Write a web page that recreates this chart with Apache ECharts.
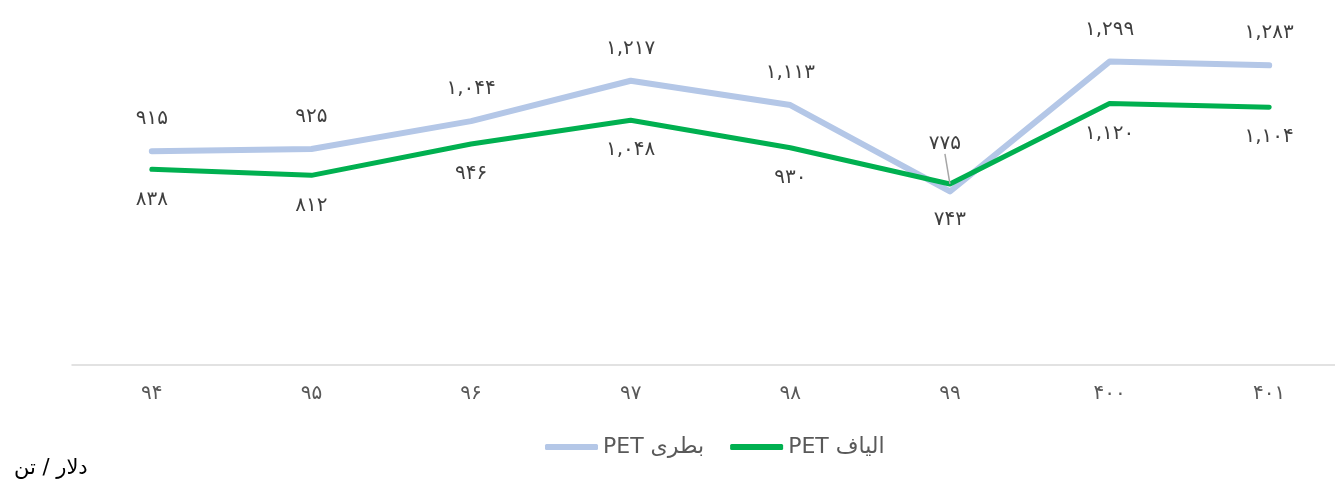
<!DOCTYPE html>
<html>
<head>
<meta charset="utf-8">
<script src="https://cdn.jsdelivr.net/npm/echarts@6/dist/echarts.min.js"></script>
<style>
    html, body { margin: 0; padding: 0; background: #fff; overflow: hidden; }
    /* نمودار کمی پهن‌تر از پنجره است تا محور تا لبه ادامه یابد */
    #chart { width: 1349px; height: 483px; }
</style>
</head>
<body>
<div id="chart"></div>
<script>
// سال‌ها
const years = ['۹۴', '۹۵', '۹۶', '۹۷', '۹۸', '۹۹', '۴۰۰', '۴۰۱'];
// قیمت بطری PET (دلار / تن)
const bottlePet = [915, 925, 1044, 1217, 1113, 743, 1299, 1283];
// قیمت الیاف PET (دلار / تن)
const fiberPet = [838, 812, 946, 1048, 930, 775, 1120, 1104];

const FONT = '"DejaVu Sans", sans-serif';

// تبدیل به ارقام فارسی
function toFa(n) {
    return n.toLocaleString('en-US').replace(/\d/g, d => '۰۱۲۳۴۵۶۷۸۹'[d]);
}

const chart = echarts.init(document.getElementById('chart'));

const bottleData = bottlePet.map((v, i) => {
    // سال ۹۹: برچسب بطری پایین خط
    if (i === 5) return { value: v, label: { position: 'bottom', distance: 18 } };
    return v;
});

const fiberData = fiberPet.map((v, i) => {
    // سال ۹۹: برچسب الیاف بالای خط با خط راهنما
    if (i === 5) return { value: v, label: { position: 'top', distance: 18 }, labelLine: { show: true } };
    return v;
});

const labelStyle = {
    show: true,
    fontFamily: FONT,
    fontSize: 20,
    color: '#404040',
    distance: 22,
    formatter: p => toFa(p.value)
};

chart.setOption({
    animation: false,
    grid: { left: 72, right: 0, top: 38, bottom: 118 },
    legend: {
        bottom: 20,
        left: 540,
        itemWidth: 53,
        itemHeight: 6,
        itemGap: 26,
        textStyle: { fontFamily: FONT, fontSize: 22, color: '#595959' },
        data: [
            { name: 'PET بطری', icon: 'roundRect' },
            { name: 'PET الیاف', icon: 'roundRect' }
        ]
    },
    graphic: [{
        type: 'text',
        left: 14,
        top: 458,
        style: { text: 'دلار / تن', fontFamily: FONT, fontSize: 21, fill: '#000' }
    }],
    xAxis: {
        type: 'category',
        data: years,
        axisTick: { show: false },
        axisLine: { lineStyle: { color: '#d9d9d9', width: 1.5 } },
        axisLabel: { fontFamily: FONT, fontSize: 20, color: '#595959', margin: 19 }
    },
    yAxis: {
        type: 'value',
        min: 0,
        max: 1400,
        show: false,
        splitLine: { show: false }
    },
    series: [
        {
            name: 'PET بطری',
            type: 'line',
            data: bottleData,
            symbol: 'circle',
            symbolSize: 0.1,
            color: '#b4c7e7',
            lineStyle: { width: 6, color: '#b4c7e7', cap: 'round', join: 'round' },
            label: Object.assign({}, labelStyle, { position: 'top' })
        },
        {
            name: 'PET الیاف',
            type: 'line',
            data: fiberData,
            symbol: 'circle',
            symbolSize: 0.1,
            color: '#00b050',
            lineStyle: { width: 5, color: '#00b050', cap: 'round', join: 'round' },
            label: Object.assign({}, labelStyle, { position: 'bottom', distance: 20 }),
            labelLine: { show: false, lineStyle: { color: '#a6a6a6', width: 1.5 } },
            labelLayout: p => (p.dataIndex === 5 ? { dx: -5, dy: -12 } : {})
        }
    ]
});

window.addEventListener('resize', () => chart.resize());
</script>
</body>
</html>
